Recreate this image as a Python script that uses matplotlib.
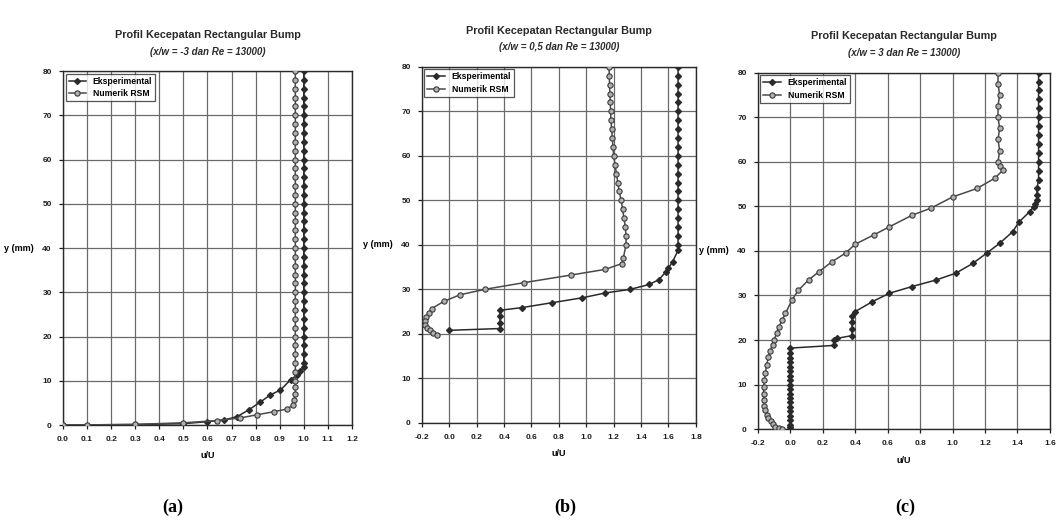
import matplotlib
matplotlib.use("Agg")
import matplotlib.pyplot as plt
from matplotlib.ticker import MultipleLocator

plt.rcParams['font.family'] = ['Liberation Sans', 'DejaVu Sans']
plt.rcParams['font.weight'] = 'bold'

# ---- (a) x/w = -3 ----
a_eks_u = [1.0, 1.0, 1.0, 1.0, 1.0, 1.0, 1.0, 1.0, 1.0, 1.0, 1.0, 1.0, 1.0, 1.0,
           1.0, 1.0, 1.0, 1.0, 1.0, 1.0, 1.0, 1.0, 1.0, 1.0, 1.0, 1.0, 1.0, 1.0,
           1.0, 1.0, 1.0, 1.0, 1.0, 1.0, 1.0, 0.985, 0.972, 0.945, 0.903, 0.861,
           0.82, 0.771, 0.723, 0.667, 0.598, 0.5, 0.3, 0.0]
a_eks_y = [80, 78, 76, 74, 72, 70, 68, 66, 64, 62, 60, 58, 56, 54,
           52, 50, 48, 46, 44, 42, 40, 38, 36, 34, 32, 30, 28, 26,
           24, 22, 20, 18, 16, 14, 13, 12.2, 11.3, 10.2, 7.9, 6.8,
           5.2, 3.4, 1.9, 1.1, 0.75, 0.3, 0.1, 0.0]
a_num_u = [0.965, 0.965, 0.965, 0.965, 0.965, 0.965, 0.965, 0.965, 0.965, 0.965,
           0.965, 0.965, 0.965, 0.965, 0.965, 0.965, 0.965, 0.965, 0.965, 0.965,
           0.965, 0.965, 0.965, 0.965, 0.965, 0.965, 0.965, 0.965, 0.965, 0.965,
           0.965, 0.965, 0.965, 0.965, 0.965, 0.965, 0.965, 0.965, 0.96, 0.955,
           0.93, 0.875, 0.805, 0.736, 0.64, 0.5, 0.3, 0.1, 0.0]
a_num_y = [80, 78, 76, 74, 72, 70, 68, 66, 64, 62,
           60, 58, 56, 54, 52, 50, 48, 46, 44, 42,
           40, 38, 36, 34, 32, 30, 28, 26, 24, 22,
           20, 18, 16, 14, 12, 10, 8.5, 7, 5.6, 4.5,
           3.6, 3.0, 2.3, 1.6, 1.0, 0.5, 0.15, 0.02, 0.0]

# ---- (b) x/w = 0.5 ----
b_eks_u = [1.67, 1.67, 1.67, 1.67, 1.67, 1.67, 1.67, 1.67, 1.67, 1.67, 1.67,
           1.67, 1.67, 1.67, 1.67, 1.67, 1.67, 1.67, 1.67, 1.67, 1.67,
           1.67, 1.63, 1.60, 1.58, 1.53, 1.46, 1.32, 1.14, 0.97, 0.75, 0.53,
           0.37, 0.37, 0.37, 0.37, 0.0]
b_eks_y = [80, 78, 76, 74, 72, 70, 68, 66, 64, 62, 60,
           58, 56, 54, 52, 50, 48, 46, 44, 42, 40,
           38.8, 36.2, 34.8, 33.9, 32.2, 31.1, 30.0, 29.2, 28.1, 27.0, 25.9,
           25.3, 24.0, 22.5, 21.2, 20.8]
b_num_u = [1.166, 1.168, 1.17, 1.172, 1.175, 1.178, 1.18, 1.185, 1.19, 1.195,
           1.2, 1.21, 1.22, 1.23, 1.24, 1.255, 1.265, 1.275, 1.285, 1.29,
           1.29, 1.27, 1.26, 1.14, 0.885, 0.544, 0.259, 0.08, -0.04, -0.127,
           -0.15, -0.17, -0.176, -0.175, -0.16, -0.14, -0.12, -0.09]
b_num_y = [80, 78, 76, 74, 72, 70, 68, 66, 64, 62,
           60, 58, 56, 54, 52, 50, 48, 46, 44, 42,
           40, 37, 35.8, 34.5, 33.2, 31.5, 30.0, 28.8, 27.3, 25.7,
           24.8, 23.8, 22.8, 22.0, 21.3, 20.8, 20.3, 19.7]

# ---- (c) x/w = 3 ----
c_eks_u = [1.53, 1.53, 1.53, 1.53, 1.53, 1.53, 1.53, 1.53, 1.53, 1.53, 1.53,
           1.53, 1.53, 1.52, 1.52, 1.52, 1.51, 1.5, 1.475, 1.41, 1.37, 1.29,
           1.21, 1.125, 1.02, 0.90, 0.75, 0.61, 0.505, 0.40, 0.38, 0.38, 0.38,
           0.38, 0.29, 0.27, 0.27, 0.0, 0.0, 0.0, 0.0, 0.0, 0.0, 0.0, 0.0, 0.0,
           0.0, 0.0, 0.0, 0.0, 0.0, 0.0, 0.0, 0.0, 0.0, 0.0, 0.0]
c_eks_y = [80, 78, 76, 74, 72, 70, 68, 66, 64, 62, 60,
           58, 56, 54, 52.5, 51.5, 50.5, 49.9, 48.8, 46.5, 44.3, 41.7,
           39.5, 37.2, 35.0, 33.5, 32.0, 30.5, 28.6, 26.4, 25.5, 24.0, 22.5,
           21.0, 20.4, 20.0, 18.8, 18.2, 17, 16, 15, 14, 13, 12, 11, 10,
           9, 8, 7, 6, 5, 4, 3, 2, 1, 0.5, 0.0]
c_num_u = [1.28, 1.28, 1.29, 1.28, 1.28, 1.29, 1.28, 1.29, 1.28, 1.29,
           1.31, 1.26, 1.15, 1.0, 0.867, 0.75, 0.61, 0.515, 0.40, 0.34,
           0.258, 0.175, 0.113, 0.05, 0.01, -0.03, -0.05, -0.07, -0.085, -0.10,
           -0.11, -0.125, -0.135, -0.145, -0.155, -0.16, -0.165, -0.165, -0.165,
           -0.16, -0.155, -0.145, -0.135, -0.12, -0.105, -0.094, -0.07, -0.05]
c_num_y = [80, 77.5, 75, 72.5, 70, 67.5, 65, 62.5, 60, 59,
           58.1, 56.3, 54.0, 52.1, 49.6, 48.0, 45.4, 43.6, 41.5, 39.5,
           37.6, 35.3, 33.5, 31.2, 29.0, 26.0, 24.5, 23.0, 21.5, 20.0,
           19.0, 17.5, 16.3, 14.5, 12.5, 11.0, 9.5, 8.0, 6.5,
           5.1, 4.2, 3.3, 2.5, 1.8, 1.2, 0.6, 0.25, 0.0]

titles = ['(x/w = -3 dan Re = 13000)', '(x/w = 0,5 dan Re = 13000)', '(x/w = 3 dan Re = 13000)']
captions = ['(a)', '(b)', '(c)']

fig = plt.figure(figsize=(10.6, 5.26), dpi=100)

# axes boxes in figure fraction
boxes = [[0.0594, 0.192, 0.2726, 0.673],
         [0.398, 0.196, 0.2585, 0.677],
         [0.715, 0.184, 0.2755, 0.678]]
xlims = [(0.0, 1.2), (-0.2, 1.8), (-0.2, 1.6)]
xsteps = [0.1, 0.2, 0.2]
data = [(a_eks_u, a_eks_y, a_num_u, a_num_y),
        (b_eks_u, b_eks_y, b_num_u, b_num_y),
        (c_eks_u, c_eks_y, c_num_u, c_num_y)]
cap_x = [173, 565, 905]

for i in range(3):
    ax = fig.add_axes(boxes[i])
    eu, ey, nu, ny = data[i]
    ax.plot(eu, ey, color='#2a2a2a', lw=1.1, marker='D', ms=3.0,
            mfc='#2a2a2a', mec='#2a2a2a', label='Eksperimental', zorder=3)
    ax.plot(nu, ny, color='#4a4a4a', lw=1.1, marker='o', ms=3.8,
            mfc='#b0b0b0', mec='#3a3a3a', mew=0.8, label='Numerik RSM', zorder=3)

    ax.set_xlim(*xlims[i])
    ax.set_ylim(0, 80)
    ax.xaxis.set_major_locator(MultipleLocator(xsteps[i]))
    ax.yaxis.set_major_locator(MultipleLocator(10))
    ax.xaxis.set_major_formatter(plt.FormatStrFormatter('%.1f'))
    ax.grid(True, color='#6a6a6a', lw=0.9)
    ax.tick_params(labelsize=6, length=3, width=0.9, pad=5, colors='#1e1e1e')
    for s in ax.spines.values():
        s.set_color('#2a2a2a')
        s.set_linewidth(1.0)

    ax.set_xlabel('u/U', fontsize=6.5, fontweight='bold', labelpad=6)
    ax.set_ylabel('y (mm)', fontsize=6.5, fontweight='bold', rotation=0,
                  ha='right', va='center', labelpad=6)

    ax.annotate('Profil Kecepatan Rectangular Bump', xy=(0.5, 1), xycoords='axes fraction',
                xytext=(0, 26), textcoords='offset points', ha='center', va='center',
                fontsize=7.8, fontweight='bold', color='#2a2a2a')
    ax.annotate(titles[i], xy=(0.5, 1), xycoords='axes fraction',
                xytext=(0, 14), textcoords='offset points', ha='center', va='center',
                fontsize=7.0, fontweight='bold', style='italic', color='#2a2a2a')

    leg = ax.legend(loc='upper left', fontsize=6.2, frameon=True, fancybox=False,
                    borderpad=0.35, handlelength=2.0, labelspacing=0.45,
                    borderaxespad=0.3)
    leg.get_frame().set_edgecolor('#2a2a2a')
    leg.get_frame().set_linewidth(0.9)

    fig.text(cap_x[i] / 1060, 0.036, captions[i], ha='center', va='center',
             fontsize=13, fontweight='bold', family='Liberation Serif')

fig.savefig('out.png', dpi=100)
